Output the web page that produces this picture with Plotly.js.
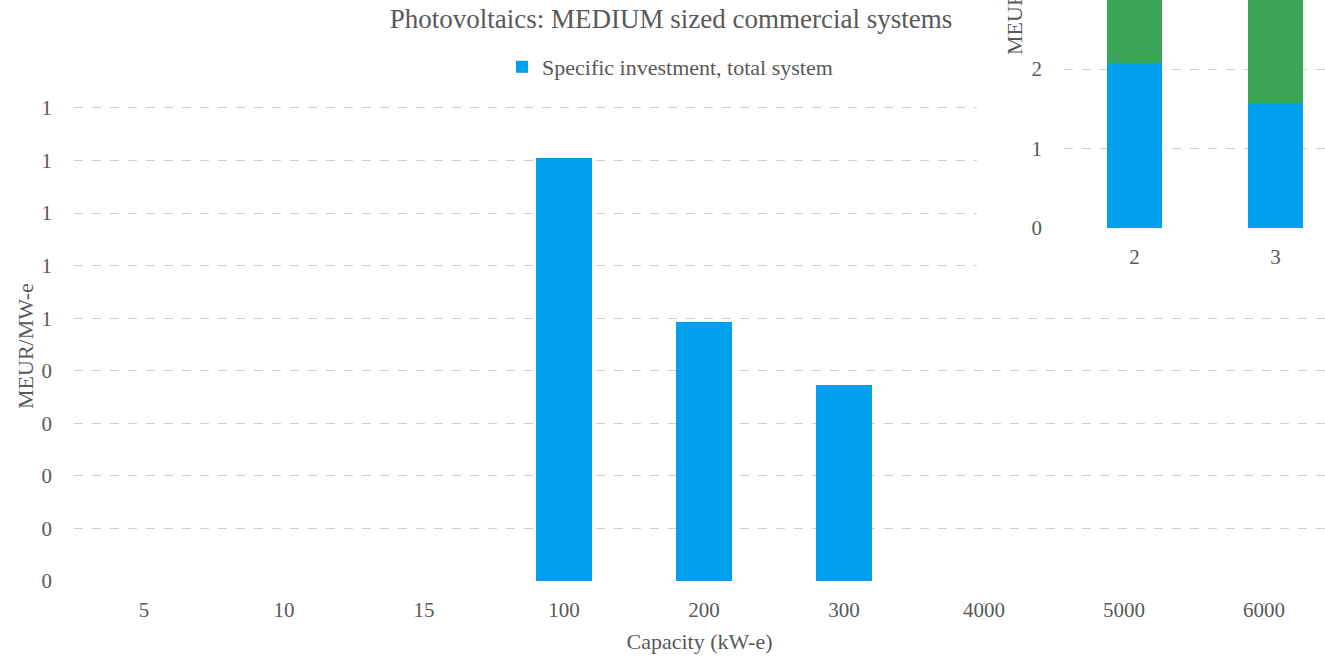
<!DOCTYPE html>
<html>
<head>
<meta charset="utf-8">
<script src="https://cdn.plot.ly/plotly-3.0.1.min.js"></script>
<style>html,body{margin:0;padding:0;background:#fff;}#chart{width:1325px;height:658px;}</style>
</head>
<body>
<div id="chart"></div>
<script>
// Main chart data
const categories = ["5", "10", "15", "100", "200", "300", "4000", "5000", "6000"];
const investment = [null, null, null, 0.805, 0.492, 0.373, null, null, null];
const yTickVals = [0, 0.1, 0.2, 0.3, 0.4, 0.5, 0.6, 0.7, 0.8, 0.9];
const yTickText = ["0", "0", "0", "0", "0", "1", "1", "1", "1", "1"];

// Overlapping inset chart data
const insetCategories = ["2", "3"];
const insetBlue = [2.07, 1.57];
const insetGreen = [1.0, 1.4];
const insetTickVals = [0, 1, 2];

const font = "'Liberation Serif', 'DejaVu Serif', serif";
const grey = "#595959";

const traces = [
  {
    type: "bar", x: categories, y: investment, name: "Specific investment, total system",
    marker: {color: "#00A0EE"}, width: 0.4, xaxis: "x", yaxis: "y", hoverinfo: "x+y"
  },
  {
    type: "bar", x: insetCategories, y: insetBlue, showlegend: false,
    marker: {color: "#00A0EE"}, width: 0.39, xaxis: "x2", yaxis: "y2"
  },
  {
    type: "bar", x: insetCategories, y: insetGreen, showlegend: false,
    marker: {color: "#3AA655"}, width: 0.39, xaxis: "x2", yaxis: "y2"
  }
];

const layout = {
  width: 1325, height: 658,
  margin: {l: 74, r: 0, t: 0, b: 77},
  paper_bgcolor: "#fff", plot_bgcolor: "rgba(0,0,0,0)",
  font: {family: font, color: grey, size: 21},
  barmode: "stack",
  title: {text: "Photovoltaics: MEDIUM sized commercial systems", font: {family: font, size: 27, color: grey},
          x: (671 - 74) / 1251, xref: "paper", xanchor: "center", y: 0.972, yref: "container", yanchor: "middle"},
  showlegend: true,
  legend: {orientation: "h", x: (670 - 74) / 1251, xanchor: "center", y: (581 - 67) / 581, yanchor: "middle",
           font: {family: font, size: 22, color: grey}, bgcolor: "rgba(0,0,0,0)",
           itemwidth: 30},
  xaxis: {
    type: "category", range: [-0.5, 8.436], domain: [0, 1],
    showgrid: false, zeroline: false, showline: false, ticks: "",
    tickfont: {family: font, size: 21, color: grey}, ticklabelstandoff: 14,
    title: {text: "Capacity (kW-e)", font: {family: font, size: 22, color: grey}, standoff: 12},
    fixedrange: true
  },
  yaxis: {
    range: [0, 581 / 525.6], domain: [0, 1],
    tickvals: yTickVals, ticktext: yTickText,
    showgrid: true, gridcolor: "#d0d0d0", griddash: "dash", gridwidth: 1,
    zeroline: false, showline: false, ticks: "",
    tickfont: {family: font, size: 21, color: grey}, ticklabelstandoff: 21,
    fixedrange: true
  },
  xaxis2: {
    type: "category", anchor: "y2", domain: [(1064 - 74) / 1251, 1], range: [-0.5, 1.351],
    showgrid: false, zeroline: false, showline: false, ticks: "",
    tickfont: {family: font, size: 21, color: grey}, ticklabelstandoff: 14, fixedrange: true
  },
  yaxis2: {
    anchor: "x2", domain: [(581 - 228) / 581, 1], range: [0, 228 / 79.5],
    tickvals: insetTickVals,
    showgrid: true, gridcolor: "#d0d0d0", griddash: "dash", gridwidth: 1,
    zeroline: false, showline: false, ticks: "",
    tickfont: {family: font, size: 21, color: grey}, ticklabelstandoff: 21, fixedrange: true
  },
  shapes: [
    {type: "rect", xref: "x", yref: "y", layer: "between",
     x0: 5.95, x1: 9.5, y0: (581 - 296) / 525.6, y1: 1.3,
     fillcolor: "#ffffff", line: {width: 0}}
  ],
  annotations: [
    {text: "MEUR/MW-e", textangle: -90, xref: "paper", yref: "paper",
     x: (25 - 74) / 1251, y: (581 - 346) / 581, xanchor: "center", yanchor: "middle",
     showarrow: false, font: {family: font, size: 22, color: grey}},
    {text: "MEUR/MW-e", textangle: -90, xref: "paper", yref: "paper",
     x: (1015 - 74) / 1251, y: (581 - 57) / 581, xanchor: "center", yanchor: "bottom",
     showarrow: false, font: {family: font, size: 22, color: grey}}
  ]
};

Plotly.newPlot("chart", traces, layout, {displayModeBar: false, staticPlot: true});
</script>
</body>
</html>
